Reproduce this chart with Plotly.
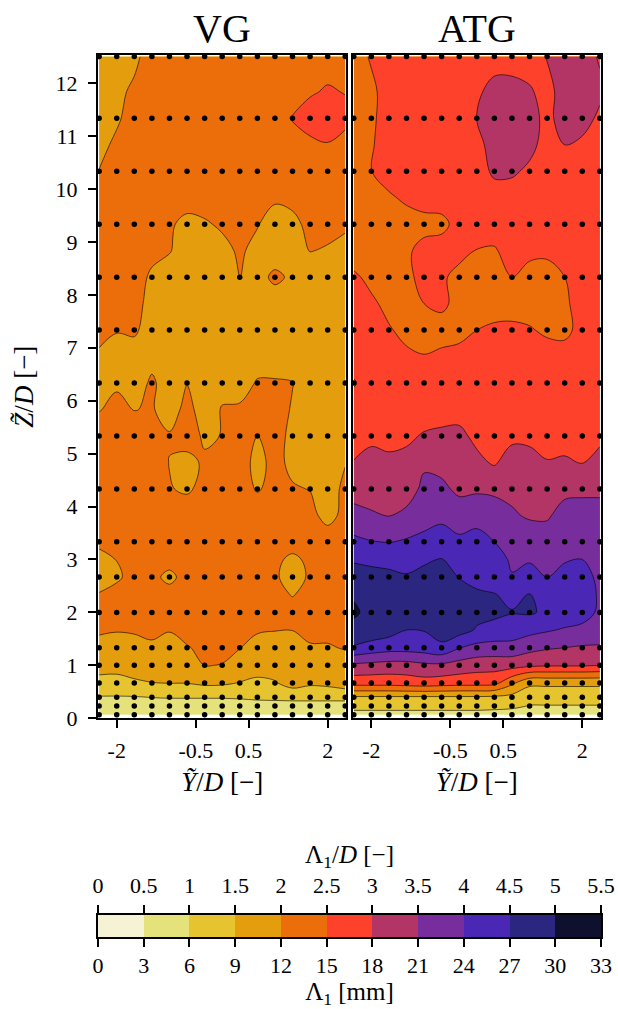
import plotly.graph_objects as go

# Spanwise probe positions Y/D (15 columns)
y_pos = [-2.333, -2.0, -1.667, -1.333, -1.0, -0.667, -0.333, 0.0,
         0.333, 0.667, 1.0, 1.333, 1.667, 2.0, 2.333]

# Heights Z/D at which the field is given
z_field = [0.067, 0.233, 0.4, 0.667, 1.0, 1.333, 1.667, 2.0, 2.333, 2.667,
           3.0, 3.333, 3.833, 4.333, 4.833, 5.333, 5.833, 6.333, 6.833, 7.333,
           7.833, 8.333, 8.833, 9.333, 9.833, 10.333, 10.833, 11.333, 11.833, 12.5]

# Heights of the measurement rows (drawn as dots)
z_probe = [0.067, 0.233, 0.4, 0.667, 1.0, 1.333, 2.0, 2.667, 3.333, 4.333,
           5.333, 6.333, 7.333, 8.333, 9.333, 10.333, 11.333, 12.5]

# Integral length scale Lambda_1/D, vortex generator (VG) case; one row per z_field
lam_vg = [
    [0.75, 0.75, 0.78, 0.78, 0.78, 0.78, 0.8, 0.8, 0.8, 0.8, 0.8, 0.8, 0.8, 0.8, 0.8],
    [0.8, 0.8, 0.8, 0.8, 0.8, 0.8, 0.8, 0.8, 0.8, 0.8, 0.8, 0.8, 0.8, 0.8, 0.8],
    [0.98, 0.98, 0.98, 1.01, 1.03, 1.03, 1.03, 1.03, 1.05, 1.1, 1.12, 1.15, 1.15, 1.15, 1.15],
    [1.29, 1.25, 1.42, 1.49, 1.51, 1.51, 1.6, 1.58, 1.48, 1.38, 1.46, 1.7, 1.58, 1.62, 1.75],
    [1.75, 1.75, 1.75, 1.75, 1.75, 1.8, 2.01, 1.99, 1.85, 1.75, 1.75, 1.75, 1.75, 1.75, 1.8],
    [1.85, 1.85, 1.85, 1.85, 1.85, 1.97, 2.1, 2.08, 2.01, 1.85, 1.85, 1.85, 1.96, 1.96, 2.03],
    [2.06, 2.02, 2.045, 2.19, 2.02, 2.15, 2.3, 2.25, 2.15, 2.04, 2.01, 2.005, 2.11, 2.12, 2.15],
    [2.2, 2.2, 2.2, 2.2, 2.2, 2.2, 2.25, 2.25, 2.2, 2.2, 2.2, 2.15, 2.2, 2.2, 2.2],
    [2.03, 2.15, 2.2, 2.2, 2.15, 2.2, 2.2, 2.2, 2.2, 2.2, 2.12, 1.98, 2.12, 2.2, 2.2],
    [1.8, 1.93, 2.15, 2.1, 1.9, 2.15, 2.2, 2.2, 2.2, 2.2, 2.05, 1.85, 2.05, 2.2, 2.2],
    [1.85, 2.01, 2.2, 2.2, 2.15, 2.2, 2.2, 2.2, 2.2, 2.2, 2.1, 1.9, 2.1, 2.2, 2.2],
    [2.1, 2.15, 2.2, 2.2, 2.2, 2.2, 2.2, 2.2, 2.2, 2.2, 2.2, 2.2, 2.2, 2.2, 2.2],
    [2.2, 2.2, 2.2, 2.2, 2.2, 2.2, 2.2, 2.2, 2.2, 2.2, 2.2, 2.2, 2.1, 1.88, 2.1],
    [2.2, 2.2, 2.2, 2.2, 2.02, 1.95, 2.1, 2.15, 2.15, 1.97, 2.1, 2.03, 1.99, 1.9, 2.05],
    [2.2, 2.2, 2.2, 2.2, 1.99, 1.9, 2.05, 2.1, 2.15, 1.9, 2.1, 1.92, 1.85, 1.85, 1.99],
    [2.2, 2.2, 2.15, 2.05, 2.03, 2.15, 1.95, 2.01, 2.1, 1.99, 2.15, 1.9, 1.85, 1.85, 1.85],
    [1.98, 2.1, 1.99, 2.03, 1.85, 2.1, 1.85, 2.02, 2.05, 2.15, 2.15, 1.97, 1.85, 1.8, 1.85],
    [1.85, 1.95, 1.85, 2.05, 1.85, 1.99, 1.85, 1.9, 1.85, 2.03, 2.03, 2.01, 1.85, 1.8, 1.8],
    [1.95, 1.85, 1.85, 1.9, 1.85, 1.85, 1.85, 1.85, 1.85, 1.85, 1.85, 1.85, 1.85, 1.85, 1.85],
    [2.1, 2.02, 2.05, 1.85, 1.85, 1.85, 1.85, 1.85, 1.85, 1.85, 1.85, 1.85, 1.85, 1.85, 1.85],
    [2.2, 2.15, 2.1, 1.9, 1.85, 1.85, 1.85, 1.85, 1.85, 1.85, 1.85, 1.85, 1.85, 1.85, 1.85],
    [2.2, 2.2, 2.08, 1.97, 1.85, 1.85, 1.85, 1.9, 2.01, 1.9, 2.06, 1.95, 1.85, 1.85, 1.85],
    [2.2, 2.2, 2.2, 2.05, 2.02, 1.85, 1.85, 1.9, 2.05, 1.9, 1.85, 1.85, 2.01, 1.97, 1.9],
    [2.25, 2.25, 2.25, 2.2, 2.05, 1.9, 1.96, 2.05, 2.1, 2.02, 1.85, 1.9, 2.1, 2.1, 2.05],
    [2.25, 2.2, 2.2, 2.2, 2.2, 2.15, 2.15, 2.2, 2.2, 2.2, 2.05, 2.1, 2.2, 2.2, 2.2],
    [2.01, 2.2, 2.25, 2.25, 2.25, 2.25, 2.25, 2.25, 2.25, 2.25, 2.25, 2.25, 2.3, 2.3, 2.3],
    [1.9, 2.07, 2.2, 2.25, 2.25, 2.25, 2.25, 2.25, 2.25, 2.25, 2.3, 2.35, 2.4, 2.48, 2.3],
    [1.85, 1.95, 2.15, 2.25, 2.25, 2.25, 2.25, 2.25, 2.25, 2.25, 2.3, 2.52, 2.7, 2.7, 2.65],
    [1.8, 1.9, 2.08, 2.2, 2.25, 2.25, 2.25, 2.25, 2.25, 2.25, 2.3, 2.35, 2.45, 2.55, 2.48],
    [1.8, 1.85, 1.9, 2.2, 2.2, 2.25, 2.25, 2.25, 2.25, 2.25, 2.25, 2.3, 2.3, 2.3, 2.3],
]

# Integral length scale Lambda_1/D, active turbulence grid (ATG) case
lam_atg = [
    [0.8, 0.8, 0.8, 0.8, 0.8, 0.8, 0.8, 0.8, 0.8, 0.78, 0.75, 0.75, 0.75, 0.75, 0.75],
    [1.2, 1.2, 1.2, 1.2, 1.2, 1.2, 1.2, 1.2, 1.15, 1.1, 0.98, 0.98, 0.98, 0.98, 0.98],
    [1.45, 1.45, 1.45, 1.45, 1.45, 1.45, 1.45, 1.45, 1.42, 1.35, 1.2, 1.2, 1.2, 1.2, 1.2],
    [2.7, 2.7, 2.7, 2.75, 2.8, 2.75, 2.7, 2.7, 2.65, 2.1, 1.6, 1.6, 1.6, 1.6, 1.6],
    [3.4, 3.35, 3.3, 3.3, 3.4, 3.4, 3.3, 3.2, 3.2, 3.2, 3.1, 3.05, 3.05, 3.05, 3.0],
    [4.45, 4.3, 4.2, 4.2, 4.25, 4.4, 4.02, 3.85, 3.8, 3.8, 3.65, 3.55, 3.5, 3.45, 3.45],
    [4.85, 4.8, 4.7, 4.5, 4.52, 4.7, 4.7, 4.45, 4.35, 4.3, 4.15, 4.05, 3.95, 3.85, 3.75],
    [5.08, 4.85, 4.8, 4.75, 4.75, 4.8, 4.75, 4.65, 4.6, 4.52, 4.55, 4.42, 4.3, 4.25, 3.9],
    [4.95, 4.8, 4.75, 4.7, 4.75, 4.8, 4.6, 4.55, 4.52, 4.4, 4.52, 4.35, 4.35, 4.4, 3.9],
    [4.7, 4.65, 4.62, 4.55, 4.6, 4.7, 4.49, 4.4, 4.3, 4.02, 4.2, 4.0, 4.2, 4.25, 3.85],
    [4.45, 4.4, 4.35, 4.3, 4.45, 4.52, 4.3, 4.25, 4.15, 3.95, 3.95, 3.85, 3.95, 4.0, 3.8],
    [4.1, 4.02, 3.98, 4.05, 4.1, 4.2, 4.1, 4.15, 4.0, 3.8, 3.75, 3.7, 3.8, 3.8, 3.7],
    [3.7, 3.55, 3.48, 3.65, 3.85, 3.9, 3.75, 3.85, 3.8, 3.55, 3.45, 3.45, 3.65, 3.6, 3.6],
    [3.25, 3.3, 3.3, 3.2, 3.65, 3.6, 3.4, 3.42, 3.38, 3.4, 3.3, 3.2, 3.4, 3.45, 3.45],
    [3.02, 3.15, 3.1, 3.15, 3.4, 3.35, 3.25, 3.1, 2.95, 3.2, 3.15, 3.02, 3.05, 2.98, 3.15],
    [2.8, 2.9, 2.85, 2.9, 3.05, 3.1, 3.1, 2.9, 2.75, 2.9, 2.9, 2.85, 2.85, 2.8, 2.9],
    [2.75, 2.75, 2.75, 2.75, 2.75, 2.8, 2.85, 2.75, 2.75, 2.75, 2.75, 2.75, 2.75, 2.75, 2.75],
    [2.45, 2.75, 2.75, 2.75, 2.75, 2.75, 2.75, 2.75, 2.75, 2.75, 2.75, 2.75, 2.75, 2.75, 2.75],
    [2.75, 2.75, 2.7, 2.6, 2.52, 2.6, 2.65, 2.75, 2.75, 2.75, 2.75, 2.75, 2.75, 2.75, 2.75],
    [2.75, 2.7, 2.55, 2.35, 2.3, 2.3, 2.35, 2.5, 2.6, 2.6, 2.55, 2.4, 2.35, 2.7, 2.75],
    [2.7, 2.6, 2.35, 2.3, 2.5, 2.6, 2.35, 2.25, 2.25, 2.3, 2.25, 2.25, 2.4, 2.75, 2.75],
    [2.6, 2.35, 2.25, 2.35, 2.7, 2.6, 2.3, 2.25, 2.3, 2.5, 2.35, 2.3, 2.5, 2.7, 2.75],
    [2.2, 2.2, 2.25, 2.4, 2.7, 2.75, 2.7, 2.48, 2.45, 2.7, 2.6, 2.6, 2.75, 2.75, 2.75],
    [2.2, 2.2, 2.2, 2.25, 2.3, 2.35, 2.7, 2.75, 2.75, 2.75, 2.75, 2.75, 2.75, 2.75, 2.75],
    [2.2, 2.3, 2.42, 2.6, 2.75, 2.75, 2.75, 2.75, 2.75, 2.75, 2.75, 2.75, 2.75, 2.75, 2.75],
    [2.2, 2.49, 2.75, 2.75, 2.75, 2.75, 2.75, 2.75, 3.1, 3.08, 2.9, 2.8, 2.8, 2.75, 2.75],
    [2.2, 2.45, 2.75, 2.75, 2.75, 2.75, 2.75, 2.85, 3.2, 3.25, 3.15, 2.8, 3.0, 2.9, 2.8],
    [2.25, 2.4, 2.75, 2.75, 2.75, 2.75, 2.75, 3.01, 3.25, 3.25, 3.2, 2.85, 3.25, 3.2, 2.9],
    [2.2, 2.4, 2.7, 2.75, 2.75, 2.75, 2.75, 2.9, 3.2, 3.2, 3.05, 2.85, 3.2, 3.25, 3.1],
    [2.3, 2.55, 2.7, 2.75, 2.75, 2.75, 2.75, 2.75, 2.75, 2.75, 2.8, 3.02, 3.2, 3.2, 2.95],
]

# Contour levels (Lambda_1/D) and their fill colours
level_start, level_end, level_step = 0.0, 5.5, 0.5
band_colors = ["#f5f3d3", "#e5e27c", "#e6c42f", "#e49d0d", "#ec6e0b", "#fe412a",
               "#b23566", "#782d9c", "#4a27b5", "#2b2780", "#0f0f2e"]
tick_over_d = [0, 0.5, 1, 1.5, 2, 2.5, 3, 3.5, 4, 4.5, 5, 5.5]
tick_over_d_text = ["0", "0.5", "1", "1.5", "2", "2.5", "3", "3.5", "4", "4.5", "5", "5.5"]
tick_mm_text = ["0", "3", "6", "9", "12", "15", "18", "21", "24", "27", "30", "33"]
y_ticks = [-2, -0.5, 0.5, 2]
y_tick_text = ["-2", "-0.5", "0.5", "2"]

FONT = "Liberation Serif"
n_bands = len(band_colors)

# Plotly maps contour bands onto z = 6*f - 0.5 (12 slots); give each band a solid block
contour_scale = []
for j, col in enumerate(band_colors):
    lo = 0.0 if j == 0 else (0.5 * j + 0.375) / 6.0
    hi = 1.0 if j == n_bands - 1 else (0.5 * (j + 1) + 0.375) / 6.0
    contour_scale.append([lo, col])
    contour_scale.append([hi, col])

# Discrete scale for the colour bar strip
bar_scale = []
for j, col in enumerate(band_colors):
    bar_scale.append([j / n_bands, col])
    bar_scale.append([(j + 1) / n_bands, col])

fig = go.Figure()

probe_x = [x for _ in z_probe for x in y_pos]
probe_z = [z for z in z_probe for _ in y_pos]

for field, xa, ya in [(lam_vg, "x", "y"), (lam_atg, "x2", "y2")]:
    fig.add_trace(go.Contour(
        x=y_pos, y=z_field, z=field,
        xaxis=xa, yaxis=ya,
        autocontour=False,
        contours=dict(start=level_start, end=level_end, size=level_step, coloring="fill"),
        colorscale=contour_scale,
        line=dict(color="black", width=0.6, smoothing=1.0),
        showscale=False, hoverinfo="skip",
    ))
    fig.add_trace(go.Scatter(
        x=probe_x, y=probe_z, xaxis=xa, yaxis=ya, mode="markers",
        marker=dict(color="black", size=5.5, line=dict(width=0)),
        cliponaxis=True, hoverinfo="skip",
    ))

# Colour bar drawn as a one-row heatmap with its own axes
fig.add_trace(go.Heatmap(
    x=[level_start + level_step * (j + 0.5) for j in range(n_bands)],
    y=[0.5],
    z=[list(range(n_bands))],
    zmin=-0.5, zmax=n_bands - 0.5,
    colorscale=bar_scale, showscale=False,
    xaxis="x3", yaxis="y3", hoverinfo="skip",
))
# invisible trace so the top axis is rendered
fig.add_trace(go.Scatter(x=[0, 5.5], y=[0.5, 0.5], xaxis="x4", yaxis="y3",
                         mode="markers", marker=dict(opacity=0), hoverinfo="skip"))

W, H = 618, 1009
ml, mr, mt, mb = 98, 17, 55, 72
ph = H - mt - mb
panel_bottom = (H - mb - 718.3) / ph
bar_top = (H - mb - 915) / ph

frame = dict(showline=True, linecolor="black", linewidth=2, mirror=True,
             showgrid=False, zeroline=False, automargin=False)
tickfont = dict(family=FONT, size=22, color="black")
titlefont = dict(family=FONT, size=27, color="black")
cbar_title_font = dict(family=FONT, size=25, color="black")

xcommon = dict(range=[-2.355, 2.355], tickmode="array", tickvals=y_ticks,
               ticktext=y_tick_text, ticks="outside", ticklen=8, tickwidth=1.5,
               tickcolor="black", tickfont=tickfont, ticklabelstandoff=3,
               title=dict(text="<i>Ỹ</i>/<i>D</i> [−]", font=titlefont, standoff=10),
               **frame)

fig.update_layout(
    width=W, height=H,
    margin=dict(l=ml, r=mr, t=mt, b=mb),
    paper_bgcolor="white", plot_bgcolor="white",
    font=dict(family=FONT, size=22, color="black"),
    showlegend=False,
    xaxis=dict(domain=[0, 0.4938], anchor="y", **xcommon),
    xaxis2=dict(domain=[0.5062, 1], anchor="y2", **xcommon),
    yaxis=dict(domain=[panel_bottom, 1], anchor="x", range=[0, 12.53],
               tickmode="array", tickvals=list(range(13)),
               ticks="outside", ticklen=8, tickwidth=1.5, tickcolor="black",
               tickfont=tickfont, ticklabelstandoff=6,
               title=dict(text="<i>Z̃</i>/<i>D</i> [−]", font=titlefont, standoff=14),
               **frame),
    yaxis2=dict(domain=[panel_bottom, 1], anchor="x2", range=[0, 12.53],
                showticklabels=False, ticks="", **frame),
    xaxis3=dict(domain=[0, 1], anchor="y3", range=[0, 5.5], tickmode="array",
                tickvals=tick_over_d, ticktext=tick_mm_text, ticks="outside",
                ticklen=8, tickwidth=2, tickcolor="black", tickfont=tickfont,
                ticklabelstandoff=0,
                title=dict(text="Λ<sub>1</sub> [mm]", font=cbar_title_font, standoff=9),
                **frame),
    xaxis4=dict(overlaying="x3", anchor="y3", side="top", range=[0, 5.5],
                tickmode="array", tickvals=tick_over_d, ticktext=tick_over_d_text,
                ticks="outside", ticklen=9, tickwidth=2, tickcolor="black",
                tickfont=tickfont, ticklabelstandoff=3, showline=False,
                showgrid=False, zeroline=False, automargin=False,
                title=dict(text="Λ<sub>1</sub>/<i>D</i> [−]", font=cbar_title_font, standoff=2)),
    yaxis3=dict(domain=[0, bar_top], anchor="x3", range=[0, 1],
                showticklabels=False, ticks="", **frame),
)

# Panel titles
title_y = 1 + (mt - 28) / ph
for text, xc in [("VG", 0.4938 / 2), ("ATG", (0.5062 + 1) / 2)]:
    fig.add_annotation(text=text, x=xc, y=title_y, xref="paper", yref="paper",
                       showarrow=False, xanchor="center", yanchor="middle",
                       font=dict(family=FONT, size=40, color="black"))

fig.write_html("out.html")
